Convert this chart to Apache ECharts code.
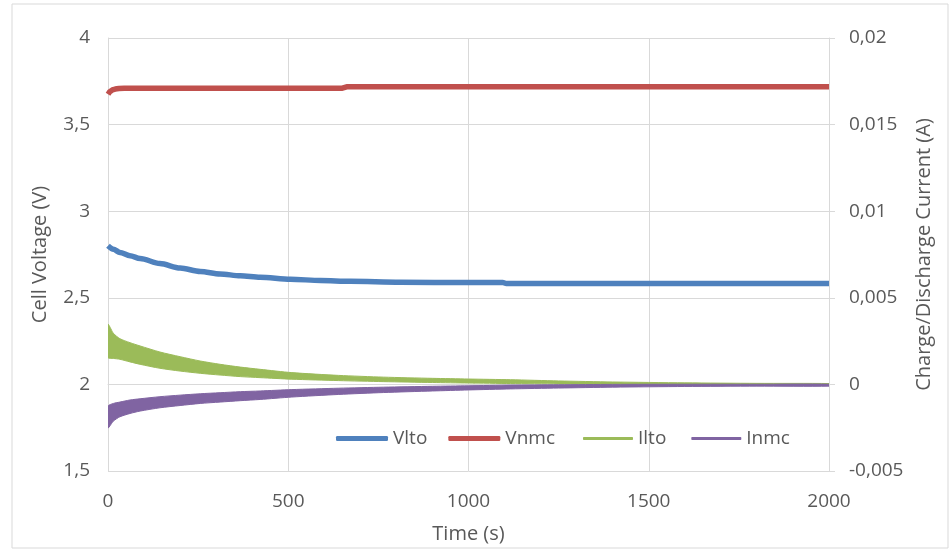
<!DOCTYPE html>
<html>
<head>
<meta charset="utf-8">
<title>Cell voltage and current vs time</title>
<script src="https://cdn.jsdelivr.net/npm/echarts@6/dist/echarts.min.js"></script>
<style>
  html, body { margin: 0; padding: 0; background: #ffffff; }
  #chart { width: 952px; height: 552px; }
</style>
</head>
<body>
<div id="chart"></div>
<script>
// Cell voltages (left axis, V)
const vltoTime = [0, 15, 33, 61, 89, 144, 200, 256, 311, 367, 422, 506, 590, 672, 811, 1000, 1095, 1105, 2000];
const vlto     = [2.80, 2.78, 2.762, 2.743, 2.727, 2.698, 2.672, 2.652, 2.638, 2.627, 2.619, 2.607, 2.60, 2.595, 2.59, 2.588, 2.588, 2.582, 2.582];

const vnmcTime = [0, 5, 12, 20, 30, 45, 650, 662, 2000];
const vnmc     = [3.675, 3.69, 3.70, 3.705, 3.708, 3.71, 3.71, 3.718, 3.718];

// Charge/discharge currents (right axis, A): upper and lower envelope of the oscillating signal
const iTime     = [0, 15, 33, 61, 89, 144, 200, 256, 311, 367, 422, 510, 640, 764, 900, 1000, 1117, 1250, 1400, 1600, 1800, 2000];
const iltoUpper = [0.00347, 0.00295, 0.00264, 0.00241, 0.00222, 0.00187, 0.0016, 0.00135, 0.00116, 0.001, 0.00087, 0.00068, 0.00052, 0.00042, 0.00035, 0.00031, 0.00027, 0.0002, 0.00014, 0.00009, 0.00006, 0.00005];
const iltoLower = [0.00155, 0.0015, 0.00145, 0.0013, 0.00116, 0.00093, 0.00077, 0.00064, 0.00054, 0.00045, 0.00039, 0.0003, 0.00022, 0.00016, 0.00011, 0.00008, 0.00005, 0.00003, 0.00001, 0, 0, 0];
const inmcUpper = [-0.00126, -0.0011, -0.00102, -0.0009, -0.00083, -0.00071, -0.00062, -0.00054, -0.00048, -0.00042, -0.00038, -0.0003, -0.00022, -0.00016, -0.00011, -0.00008, -0.00004, -0.00002, 0, 0.00001, 0.00001, 0.00001];
const inmcLower = [-0.00251, -0.00212, -0.00187, -0.00168, -0.00154, -0.00135, -0.00122, -0.0011, -0.00102, -0.00094, -0.00087, -0.00073, -0.00058, -0.00047, -0.00038, -0.00032, -0.00026, -0.00021, -0.00016, -0.00012, -0.0001, -0.0001];

// Axis settings
const timeTicks = { min: 0, max: 2000, interval: 500 };
const voltTicks = { min: 1.5, max: 4, interval: 0.5 };
const currTicks = { min: -0.005, max: 0.02, interval: 0.005 };

const seriesNames = ['Vlto', 'Vnmc', 'Ilto', 'Inmc'];
const colors = { Vlto: '#4F81BD', Vnmc: '#C0504D', Ilto: '#9BBB59', Inmc: '#8064A2' };

const pair = (xs, ys) => xs.map((x, i) => [x, ys[i]]);
const commaFmt = v => String(+(+v).toFixed(4)).replace('.', ',');

const textColor = '#595959';
const gridColor = '#d9d9d9';
const font = 'Open Sans';

const chart = echarts.init(document.getElementById('chart'), null, { renderer: 'canvas' });

// A filled band between two envelopes, drawn as one smoothed polygon through the axis scales
function bandSeries(name, xs, upper, lower) {
  return {
    name: name,
    type: 'custom',
    yAxisIndex: 1,
    data: xs.map((x, i) => [x, upper[i], lower[i]]),
    encode: { x: 0, y: [1, 2] },
    itemStyle: { color: colors[name] },
    silent: true,
    z: 3,
    renderItem: function (params, api) {
      if (params.dataIndex !== 0) return null;
      const cs = params.coordSys;
      const top = xs.map((x, i) => api.coord([x, upper[i]]));
      const bottom = xs.map((x, i) => api.coord([x, lower[i]])).reverse();
      return {
        type: 'polygon',
        shape: { points: top.concat(bottom), smooth: 0.25 },
        style: { fill: colors[name], stroke: colors[name], lineWidth: 1, lineJoin: 'round' },
        clipPath: {
          type: 'rect',
          shape: { x: cs.x, y: cs.y, width: cs.width, height: cs.height }
        }
      };
    }
  };
}

const option = {
  animation: false,
  backgroundColor: '#ffffff',
  textStyle: { fontFamily: font, color: textColor },
  grid: { left: 108, right: 123, top: 38, bottom: 81, containLabel: false },
  graphic: [{
    type: 'rect',
    shape: { x: 12, y: 4, width: 936, height: 544 },
    style: { fill: 'none', stroke: '#d9d9d9', lineWidth: 1 },
    silent: true,
    z: -10
  }],
  legend: [
    {
      data: seriesNames.slice(0, 2).map(n => ({ name: n, icon: 'roundRect', itemStyle: { color: colors[n] } })),
      left: 331, top: 424,
      itemWidth: 52, itemHeight: 5, itemGap: 21,
      textStyle: { fontFamily: font, fontSize: 19, color: textColor },
      selectedMode: false
    },
    {
      data: seriesNames.slice(2).map(n => ({ name: n, icon: 'roundRect', itemStyle: { color: colors[n] } })),
      left: 578, top: 424,
      itemWidth: 50, itemHeight: 3, itemGap: 25,
      textStyle: { fontFamily: font, fontSize: 19, color: textColor },
      selectedMode: false
    }
  ],
  xAxis: {
    type: 'value',
    min: timeTicks.min, max: timeTicks.max, interval: timeTicks.interval,
    name: 'Time (s)',
    nameLocation: 'middle',
    nameGap: 53,
    nameTextStyle: { fontFamily: font, fontSize: 20, color: textColor },
    axisLine: { show: true, lineStyle: { color: gridColor, width: 1 } },
    axisTick: { show: true, inside: false, length: 7, lineStyle: { color: gridColor } },
    axisLabel: { margin: 21, fontFamily: font, fontSize: 19, color: textColor, formatter: v => String(v) },
    splitLine: { show: true, lineStyle: { color: gridColor, width: 1 } }
  },
  yAxis: [
    {
      type: 'value',
      position: 'left',
      min: voltTicks.min, max: voltTicks.max, interval: voltTicks.interval,
      name: 'Cell Voltage (V)',
      nameLocation: 'middle',
      nameRotate: 90,
      nameGap: 58,
      nameTextStyle: { fontFamily: font, fontSize: 20, color: textColor },
      axisLine: { show: true, lineStyle: { color: gridColor, width: 1 } },
      axisTick: { show: false },
      axisLabel: { margin: 18, fontFamily: font, fontSize: 19, color: textColor, formatter: commaFmt },
      splitLine: { show: true, lineStyle: { color: gridColor, width: 1 } }
    },
    {
      type: 'value',
      position: 'right',
      min: currTicks.min, max: currTicks.max, interval: currTicks.interval,
      name: 'Charge/Discharge Current (A)',
      nameLocation: 'middle',
      nameRotate: 90,
      nameGap: 78,
      nameTextStyle: { fontFamily: font, fontSize: 20, color: textColor },
      axisLine: { show: true, lineStyle: { color: gridColor, width: 1 } },
      axisTick: { show: true, inside: false, length: 6, lineStyle: { color: gridColor } },
      axisLabel: { margin: 20, fontFamily: font, fontSize: 19, color: textColor, formatter: commaFmt },
      splitLine: { show: false }
    }
  ],
  series: [
    {
      name: 'Vlto',
      type: 'line',
      yAxisIndex: 0,
      data: pair(vltoTime, vlto),
      showSymbol: false,
      smooth: 0.3,
      smoothMonotone: 'x',
      lineStyle: { color: colors.Vlto, width: 5.5 },
      itemStyle: { color: colors.Vlto },
      z: 4
    },
    {
      name: 'Vnmc',
      type: 'line',
      yAxisIndex: 0,
      data: pair(vnmcTime, vnmc),
      showSymbol: false,
      smooth: false,
      lineStyle: { color: colors.Vnmc, width: 5.5, join: 'round' },
      itemStyle: { color: colors.Vnmc },
      z: 4
    },
    bandSeries('Ilto', iTime, iltoUpper, iltoLower),
    bandSeries('Inmc', iTime, inmcUpper, inmcLower)
  ]
};

chart.setOption(option);
</script>
</body>
</html>
